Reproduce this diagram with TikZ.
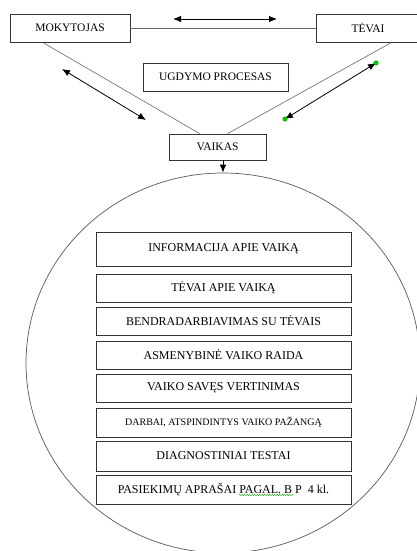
\documentclass[tikz,border=0pt]{standalone}
\usepackage{fontspec}
\setmainfont{Liberation Serif}
\usetikzlibrary{arrows.meta,shapes.geometric,decorations.pathmorphing}
\begin{document}
\begin{tikzpicture}[x=1pt,y=-1pt,
  box/.style={draw=black!80,line width=0.8pt,inner sep=0pt,font=\fontsize{12}{14}\selectfont},
  topbox/.style={box,font=\fontsize{11.5}{14}\selectfont},
  inbox/.style={box,minimum width=255pt},
  conn/.style={draw=black!60,line width=0.6pt},
  dbl/.style={line width=0.8pt,{Latex[length=8pt,width=6.5pt]}-{Latex[length=8pt,width=6.5pt]}},
  gdot/.style={circle,fill=green!85!black,draw=green!40!black,line width=0.3pt,inner sep=0pt,minimum size=4.5pt}
]
\clip (0,0) rectangle (417,551);
\fill[white] (0,0) rectangle (417,551);

% top boxes
\node[topbox,minimum width=120pt,minimum height=28pt] (mok) at (70,28) {MOKYTOJAS};
\node[topbox,minimum width=104pt,minimum height=28pt] (tev) at (368,28) {TĖVAI};
\node[topbox,minimum width=145pt,minimum height=28pt] (ugd) at (215.5,77) {UGDYMO PROCESAS};
\node[topbox,minimum width=97pt,minimum height=26pt] (vai) at (217.5,147) {VAIKAS};

% connecting lines
\draw[conn] (mok.east) -- (tev.west);
\draw[conn] ([xshift=33pt]mok.south west) -- ([xshift=31pt]vai.north west);
\draw[conn] ([xshift=76pt]tev.south west) -- ([xshift=59pt]vai.north west);

% double arrows
\coordinate (ta1) at (173,19);
\coordinate (ta2) at (277,19);
\draw[dbl] (ta1) -- (ta2);
\coordinate (la1) at (62,69);
\coordinate (la2) at (146,120);
\draw[dbl] (la1) -- (la2);
\coordinate (ra1) at (285,119);
\coordinate (ra2) at (376,63);
\draw[dbl] (ra1) -- (ra2);
\node[gdot] (g1) at (ra1) {};
\node[gdot] (g2) at (ra2) {};

% big circle
\node[draw=black!65,line width=0.7pt,ellipse,minimum width=394pt,minimum height=380pt,inner sep=0pt] (circ) at (223,363) {};
\draw[line width=0.8pt,-{Latex[length=8pt,width=6.5pt]}] ([xshift=5.5pt]vai.south) -- (circ.north);

% inner boxes
\node[inbox,minimum height=34pt] (b1) at (223.5,249) {INFORMACIJA APIE VAIKĄ};
\node[inbox,minimum height=28pt] (b2) at (223.5,288) {TĖVAI APIE VAIKĄ};
\node[inbox,minimum height=28pt] (b3) at (223.5,321) {BENDRADARBIAVIMAS SU TĖVAIS};
\node[inbox,minimum height=28pt] (b4) at (223.5,355) {ASMENYBINĖ VAIKO RAIDA};
\node[inbox,minimum height=28pt] (b5) at (223.5,388) {VAIKO SAVĘS VERTINIMAS};
\node[inbox,minimum height=29pt,font=\fontsize{10}{12}\selectfont] (b6) at (223.5,422.5) {DARBAI, ATSPINDINTYS VAIKO PAŽANGĄ};
\node[inbox,minimum height=30pt] (b7) at (223.5,456) {DIAGNOSTINIAI TESTAI};
\node[inbox,minimum height=29pt] (b8) at (223.5,489.5) {PASIEKIMŲ APRAŠAI PAGAL. B P \ 4 kl.};

% spell-check wavy underline
\draw[green!60!black,line width=0.4pt,decorate,decoration={snake,amplitude=0.6pt,segment length=2.5pt}] (239,495) -- (294,495);
\end{tikzpicture}
\end{document}
